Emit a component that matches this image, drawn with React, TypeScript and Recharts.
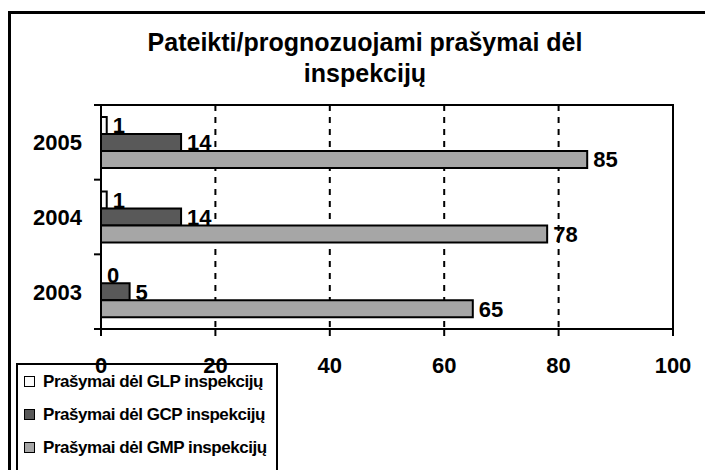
import React from 'react';
import {
  BarChart,
  Bar,
  XAxis,
  YAxis,
  CartesianGrid,
  ReferenceArea,
  LabelList,
  Legend
} from 'recharts';

const years = ['2005', '2004', '2003'];
const glpValues = [1, 1, 0];
const gcpValues = [14, 14, 5];
const gmpValues = [85, 78, 65];
const xTicks = [0, 20, 40, 60, 80, 100];

const series = [
  { key: 'glp', name: 'Prašymai dėl GLP inspekcijų', color: '#fbfbfb' },
  { key: 'gcp', name: 'Prašymai dėl GCP inspekcijų', color: '#595959' },
  { key: 'gmp', name: 'Prašymai dėl GMP inspekcijų', color: '#a6a6a6' }
];

const data = years.map((year, i) => ({
  year,
  glp: glpValues[i],
  gcp: gcpValues[i],
  gmp: gmpValues[i]
}));

const FONT = '"Liberation Sans", Arial, sans-serif';
const CHART_W = 705;
const CHART_H = 470;
const MARGIN = { top: 105, right: 32, bottom: 101, left: 0 };
const X_AXIS_H = 40;
const PLOT_H = CHART_H - MARGIN.top - MARGIN.bottom - X_AXIS_H;
const BAND = PLOT_H / years.length;

// year label plus Excel-style tick marks between categories
const YearTick = ({ x, y, payload, index }: any) => (
  <g>
    <line x1={x - 7} x2={x} y1={y - BAND / 2} y2={y - BAND / 2} stroke="#000" strokeWidth={2} />
    {index === years.length - 1 && (
      <line x1={x - 7} x2={x} y1={y + BAND / 2} y2={y + BAND / 2} stroke="#000" strokeWidth={2} />
    )}
    <text
      x={x - 19}
      y={y + 8}
      textAnchor="end"
      fill="#000"
      fontSize={22}
      fontWeight="bold"
      fontFamily={FONT}
    >
      {payload.value}
    </text>
  </g>
);

const renderLegend = () => (
  <div
    style={{
      border: '2px solid #000',
      boxSizing: 'border-box',
      width: 262,
      height: 130,
      fontFamily: FONT,
      fontWeight: 'bold',
      fontSize: 17,
      letterSpacing: -0.45,
      color: '#000',
      whiteSpace: 'nowrap'
    }}
  >
    {series.map(s => (
      <div key={s.key} style={{ height: 33, display: 'flex', alignItems: 'center' }}>
        <span
          style={{
            display: 'inline-block',
            flex: 'none',
            width: 11,
            height: 11,
            boxSizing: 'border-box',
            border: '1.5px solid #000',
            background: s.color,
            marginLeft: 6,
            marginRight: 8
          }}
        />
        <span>{s.name}</span>
      </div>
    ))}
  </div>
);

export default function App() {
  return (
    <div
      style={{
        position: 'fixed',
        left: 0,
        top: 0,
        width: CHART_W,
        height: CHART_H,
        overflow: 'hidden',
        background: '#fff',
        fontFamily: FONT
      }}
    >
      <div
        style={{
          position: 'absolute',
          left: 8,
          top: 11,
          width: 740,
          height: 520,
          border: '3px solid #000'
        }}
      />
      <div
        style={{
          position: 'absolute',
          left: 0,
          top: 27,
          width: 730,
          textAlign: 'center',
          fontSize: 25,
          fontWeight: 'bold',
          lineHeight: '31px',
          color: '#000'
        }}
      >
        Pateikti/prognozuojami prašymai dėl
        <br />
        inspekcijų
      </div>
      <div style={{ position: 'absolute', left: 0, top: 0 }}>
        <BarChart
          width={CHART_W}
          height={CHART_H}
          data={data}
          layout="vertical"
          margin={MARGIN}
          barCategoryGap="16%"
          barGap={0}
        >
          <CartesianGrid
            horizontal={false}
            stroke="#000"
            strokeWidth={2}
            strokeDasharray="6 6"
          />
          <XAxis
            type="number"
            domain={[0, 100]}
            ticks={xTicks}
            height={X_AXIS_H}
            axisLine={{ stroke: '#000', strokeWidth: 2 }}
            tickLine={{ stroke: '#000', strokeWidth: 2 }}
            tickSize={7}
            tickMargin={21}
            tick={{ fill: '#000', fontSize: 22, fontWeight: 'bold', fontFamily: FONT }}
          />
          <YAxis
            type="category"
            dataKey="year"
            width={101}
            axisLine={{ stroke: '#000', strokeWidth: 2 }}
            tickLine={false}
            tickSize={0}
            tickMargin={0}
            tick={<YearTick />}
          />
          <ReferenceArea
            x1={0}
            x2={100}
            fill="none"
            fillOpacity={0}
            stroke="#000"
            strokeWidth={2}
            strokeOpacity={1}
          />
          {series.map(s => (
            <Bar
              key={s.key}
              dataKey={s.key}
              name={s.name}
              fill={s.color}
              stroke="#000"
              strokeWidth={2}
              minPointSize={0.001}
              isAnimationActive={false}
            >
              <LabelList
                dataKey={s.key}
                position="right"
                offset={6}
                fill="#000"
                stroke="none"
                fontSize={22}
                fontWeight="bold"
                fontFamily={FONT}
              />
            </Bar>
          ))}
          <Legend
            layout="vertical"
            align="center"
            verticalAlign="middle"
            wrapperStyle={{ left: 16, top: 363, width: 262, height: 130 }}
            content={renderLegend}
          />
        </BarChart>
      </div>
    </div>
  );
}
